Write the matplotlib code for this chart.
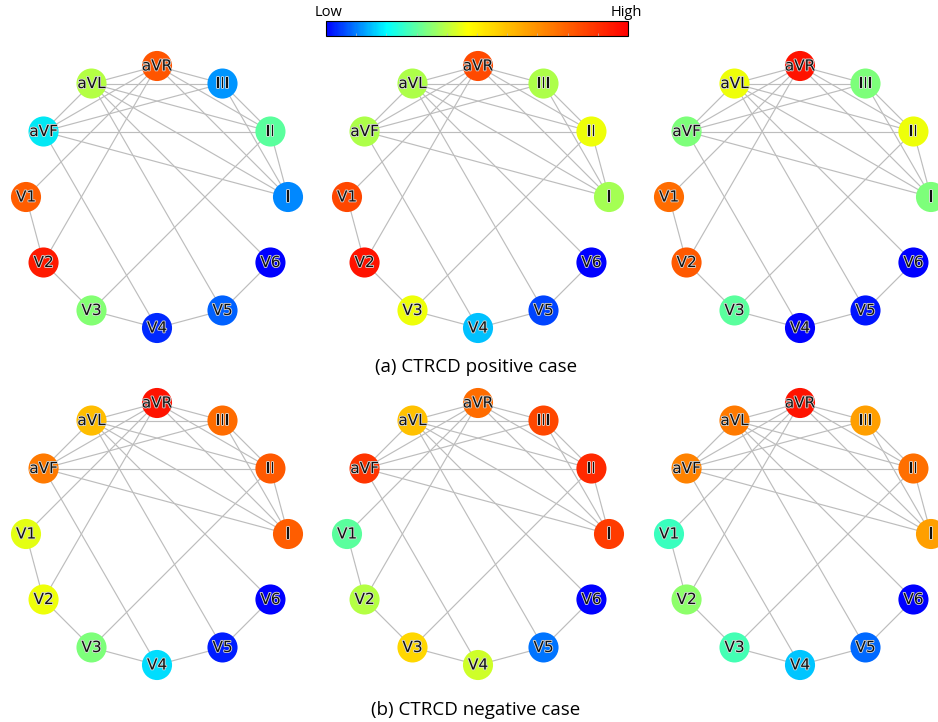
import numpy as np
import matplotlib
matplotlib.use("Agg")
import matplotlib.pyplot as plt
import matplotlib.patheffects as pe
from matplotlib.cm import ScalarMappable
from matplotlib.colors import Normalize, LinearSegmentedColormap

# 12 ECG leads, placed on a circle (counter-clockwise, starting at the right)
leads = ["I", "II", "III", "aVR", "aVL", "aVF", "V1", "V2", "V3", "V4", "V5", "V6"]

edges = [
    ("aVR", "aVL"), ("aVR", "III"), ("aVR", "II"), ("aVR", "I"), ("aVR", "aVF"),
    ("aVR", "V1"), ("aVR", "V2"),
    ("aVL", "III"), ("aVL", "aVF"), ("aVL", "II"), ("aVL", "I"), ("aVL", "V5"), ("aVL", "V6"),
    ("aVF", "III"), ("aVF", "II"), ("aVF", "I"), ("aVF", "V4"),
    ("III", "II"), ("III", "I"), ("II", "I"), ("II", "V3"),
    ("V1", "V2"), ("V2", "V3"), ("V3", "V4"), ("V4", "V5"), ("V5", "V6"),
]

# node importance on the jet scale, order as in `leads`
pos_case_1 = [0.26, 0.46, 0.27, 0.82, 0.57, 0.355, 0.81, 0.88, 0.51, 0.165, 0.22, 0.11]
pos_case_2 = [0.55, 0.64, 0.56, 0.83, 0.56, 0.56, 0.835, 0.89, 0.64, 0.315, 0.195, 0.11]
pos_case_3 = [0.50, 0.64, 0.50, 0.89, 0.64, 0.50, 0.795, 0.815, 0.46, 0.12, 0.145, 0.12]
neg_case_1 = [0.81, 0.815, 0.795, 0.89, 0.71, 0.78, 0.625, 0.64, 0.50, 0.34, 0.155, 0.12]
neg_case_2 = [0.845, 0.865, 0.835, 0.795, 0.705, 0.855, 0.46, 0.57, 0.68, 0.60, 0.24, 0.12]
neg_case_3 = [0.74, 0.79, 0.74, 0.89, 0.78, 0.77, 0.42, 0.52, 0.43, 0.32, 0.23, 0.12]

panels = [pos_case_1, pos_case_2, pos_case_3, neg_case_1, neg_case_2, neg_case_3]
captions = ["(a) CTRCD positive case", "(b) CTRCD negative case"]

# colour bar stops (Low -> High)
bar_stops = [0.0, 0.2, 0.47, 1.0]
bar_colors = ["#0000ff", "#00ffff", "#ffff00", "#ff0000"]

W, H = 938, 722
cmap = plt.get_cmap("jet")
bar_cmap = LinearSegmentedColormap.from_list("lowhigh", list(zip(bar_stops, bar_colors)))

fig = plt.figure(figsize=(W / 100, H / 100), dpi=100)

# circular layout
ang = np.deg2rad(np.arange(len(leads)) * 30.0)
xy = {n: (np.cos(a), np.sin(a)) for n, a in zip(leads, ang)}

R_PX = 131.0      # radius of the circle in pixels
HALF = 150.0      # half size of each panel axes in pixels
centers_x = [157, 478, 800]
centers_y = [197, 534]   # from the top

for i, vals in enumerate(panels):
    cx = centers_x[i % 3]
    cy = H - centers_y[i // 3]
    ax = fig.add_axes([(cx - HALF) / W, (cy - HALF) / H, 2 * HALF / W, 2 * HALF / H])
    lim = HALF / R_PX
    ax.set_xlim(-lim, lim)
    ax.set_ylim(-lim, lim)
    ax.set_axis_off()

    for a, b in edges:
        ax.plot([xy[a][0], xy[b][0]], [xy[a][1], xy[b][1]],
                color="0.74", lw=0.85, zorder=1, clip_on=False)

    px = [xy[n][0] for n in leads]
    py = [xy[n][1] for n in leads]
    ax.scatter(px, py, s=470, c=vals, cmap=cmap, vmin=0, vmax=1,
               edgecolors="none", zorder=2, clip_on=False)
    for n in leads:
        ax.text(xy[n][0], xy[n][1], n, ha="center", va="center", fontsize=11,
                color="#111111", zorder=3, clip_on=False,
                path_effects=[pe.withStroke(linewidth=1.2, foreground="0.85")])

# captions
fig.text(476 / W, 1 - 367 / H, captions[0], ha="center", va="center",
         fontsize=13.5, family="Open Sans")
fig.text(476 / W, 1 - 710 / H, captions[1], ha="center", va="center",
         fontsize=13.5, family="Open Sans")

# colour bar at the top
cax = fig.add_axes([326 / W, 1 - 36 / H, 302 / W, 15 / H])
cb = fig.colorbar(ScalarMappable(norm=Normalize(0, 1), cmap=bar_cmap), cax=cax,
                  orientation="horizontal")
cb.set_ticks(np.linspace(0, 1, 11)[1:-1])
cb.ax.xaxis.set_ticks_position("bottom")
cb.ax.tick_params(length=2, width=0.5, color="0.75", direction="in",
                  labelbottom=False, top=False)
cb.outline.set_linewidth(0.8)
fig.text(315 / W, 1 - 13 / H, "Low", ha="left", va="center", fontsize=10.5, family="Open Sans")
fig.text(642 / W, 1 - 13 / H, "High", ha="right", va="center", fontsize=10.5, family="Open Sans")

fig.savefig("out.png", dpi=100)
